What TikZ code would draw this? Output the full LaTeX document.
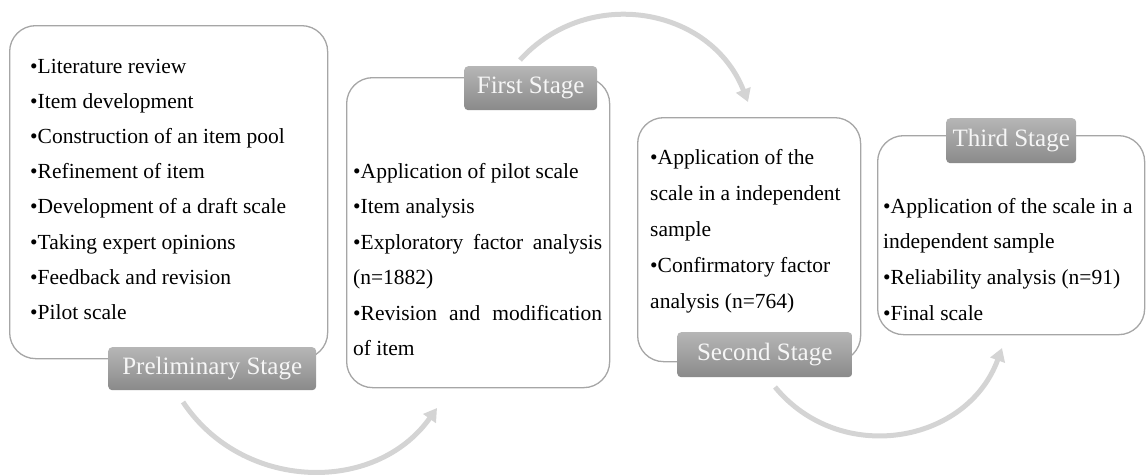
\documentclass[tikz,border=0pt]{standalone}
\usepackage{fontspec}
\setmainfont{Liberation Serif}
\usetikzlibrary{arrows.meta}
\definecolor{boxline}{RGB}{166,166,166}
\definecolor{labtop}{RGB}{182,182,182}
\definecolor{labbot}{RGB}{138,138,138}
\definecolor{arrowc}{RGB}{212,212,212}
\definecolor{labtext}{RGB}{246,246,246}
\begin{document}
\begin{tikzpicture}[x=1pt,y=-1pt,
  stagebox/.style={draw=boxline,line width=1.3pt,rounded corners=26pt,fill=white,anchor=north west,inner sep=0pt},
  stagelabel/.style={rounded corners=4pt,top color=labtop,bottom color=labbot,anchor=north west,inner sep=0pt,text=labtext,font=\fontsize{25}{30}\selectfont},
  itemtxt/.style={anchor=base west,inner sep=0pt,font=\fontsize{21.5}{26}\selectfont,text=black},
  flow/.style={draw=arrowc,line width=5pt,-{Triangle[length=13pt,width=15pt]}}]
\useasboundingbox (0,0) rectangle (1146,475);
% connecting arrows
\coordinate (a1s) at (183,402);
\coordinate (a1e) at (437,408);
\coordinate (a2s) at (520,60);
\coordinate (a2e) at (748,102);
\coordinate (a3s) at (775,387);
\coordinate (a3e) at (1002,348);
\draw[flow] (a1s) .. controls (242,491) and (375,495) .. (a1e);
\draw[flow] (a2s) .. controls (588,-15) and (711,7) .. (a2e);
\draw[flow] (a3s) .. controls (840,466) and (967,444) .. (a3e);
% boxes
\node[stagebox,minimum width=318pt,minimum height=333pt] (b1) at (9,25) {};
\node[stagebox,minimum width=263pt,minimum height=310pt] (b2) at (346,77) {};
\node[stagebox,minimum width=223pt,minimum height=244pt] (b3) at (637,117) {};
\node[stagebox,minimum width=267pt,minimum height=199pt] (b4) at (877,135) {};
% labels
\node[stagelabel,minimum width=208pt,minimum height=43pt] (l1) at (108,347) {Preliminary Stage};
\node[stagelabel,minimum width=133pt,minimum height=44pt] (l2) at (464,66) {First Stage};
\node[stagelabel,minimum width=175pt,minimum height=45pt] (l3) at (677,332) {Second Stage};
\node[stagelabel,minimum width=130pt,minimum height=45pt] (l4) at (946,118) {Third Stage};
% box 1 items
\foreach \t [count=\i from 0] in {•Literature review,•Item development,•Construction of an item pool,•Refinement of item,•Development of a draft scale,•Taking expert opinions,•Feedback and revision,•Pilot scale}
  \node[itemtxt] (p\i) at (30,{73+35.2*\i}) {\t};
% box 2 items
\node[itemtxt] (q0) at (353,178) {•Application of pilot scale};
\node[itemtxt] (q1) at (353,213.5) {•Item analysis};
\node[itemtxt] (q2) at (353,249) {\makebox[249pt][s]{•Exploratory factor analysis}};
\node[itemtxt] (q3) at (353,284.5) {(n=1882)};
\node[itemtxt] (q4) at (353,320) {\makebox[249pt][s]{•Revision and modification}};
\node[itemtxt] (q5) at (353,355.5) {of item};
% box 3 items
\foreach \t [count=\i from 0] in {•Application of the,scale in a independent,sample,•Confirmatory factor,analysis (n=764)}
  \node[itemtxt] (r\i) at (650,{164+36*\i}) {\t};
% box 4 items
\foreach \t [count=\i from 0] in {•Application of the scale in a,independent sample,•Reliability analysis (n=91),•Final scale}
  \node[itemtxt] (s\i) at (883,{213+35.7*\i}) {\t};
\end{tikzpicture}
\end{document}
